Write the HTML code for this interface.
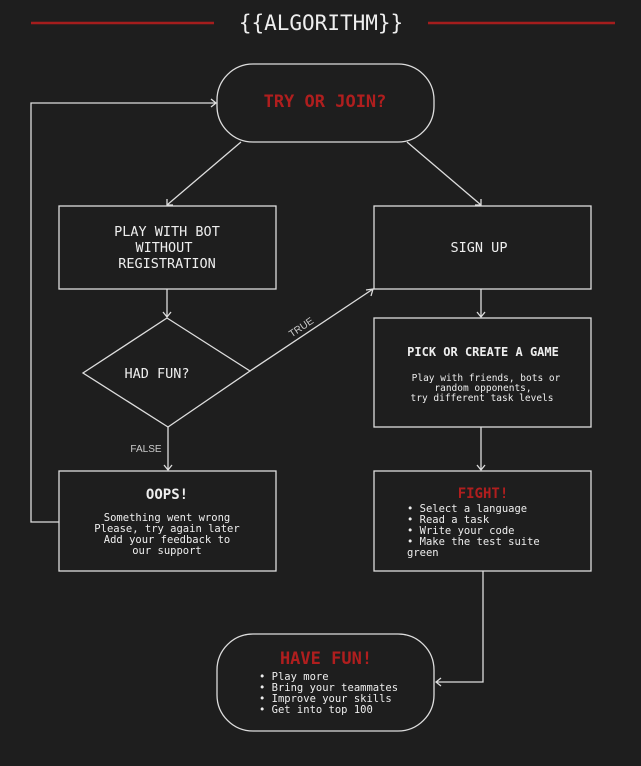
<!DOCTYPE html>
<html><head><meta charset="utf-8"><style>
html,body{margin:0;padding:0;background:#1e1e1e;}
svg{display:block}
text{font-family:"DejaVu Sans Mono","Liberation Mono",monospace;fill:#eee}
text.red{fill:#b01e1e}
text.lab{fill:#ccc;font-family:"Liberation Sans",sans-serif}
</style></head><body>
<svg width="641" height="766" viewBox="0 0 641 766" xmlns="http://www.w3.org/2000/svg">
<rect width="641" height="766" fill="#1e1e1e"/>
<g stroke="#a51d1d" stroke-width="2.5"><line x1="31" y1="23" x2="214" y2="23"/><line x1="428" y1="23" x2="615" y2="23"/></g>
<text x="321" y="30" font-size="21" text-anchor="middle">{{ALGORITHM}}</text>
<g fill="none" stroke="#ddd" stroke-width="1.3">
<rect x="217" y="64" width="217" height="78" rx="36"/>
<rect x="59" y="206" width="217" height="83"/>
<rect x="374" y="206" width="217" height="83"/>
<polygon points="167,318 250,371 168,427 83,373"/>
<rect x="59" y="471" width="217" height="100"/>
<rect x="374" y="318" width="217" height="109"/>
<rect x="374" y="471" width="217" height="100"/>
<rect x="217" y="634" width="217" height="97" rx="36"/>
<polyline points="59,522 31,522 31,103 216,103"/>
<polyline points="211,99 216,103 211,107"/>
<line x1="241" y1="142" x2="167" y2="205"/><polyline points="167,199 167,205 173,205"/>
<line x1="407" y1="142" x2="481" y2="205"/><polyline points="475,205 481,205 481,199"/>
<line x1="167" y1="289" x2="167" y2="317"/><polyline points="163,312 167,317 171,312"/>
<line x1="250" y1="371" x2="373" y2="289"/><polyline points="366,290 373,289 371,296"/>
<line x1="168" y1="427" x2="168" y2="470"/><polyline points="164,465 168,470 172,465"/>
<line x1="481" y1="289" x2="481" y2="317"/><polyline points="477,312 481,317 485,312"/>
<line x1="481" y1="427" x2="481" y2="470"/><polyline points="477,465 481,470 485,465"/>
<polyline points="483,571 483,682 436,682"/><polyline points="441,678 436,682 441,686"/>
</g>
<text class="red" x="325" y="107" font-size="17" font-weight="bold" text-anchor="middle">TRY OR JOIN?</text>
<g font-size="13.5" text-anchor="middle">
<text x="167" y="236">PLAY WITH BOT</text><text x="164" y="252">WITHOUT</text><text x="167" y="268">REGISTRATION</text>
<text x="479" y="252">SIGN UP</text>
<text x="157" y="378">HAD FUN?</text>
</g>
<text class="lab" x="303" y="330" font-size="10" transform="rotate(-34 303 330)" text-anchor="middle">TRUE</text>
<text class="lab" x="146" y="452" font-size="10" text-anchor="middle">FALSE</text>
<text x="167" y="499" font-size="14" font-weight="bold" text-anchor="middle">OOPS!</text>
<g font-size="10.5" text-anchor="middle">
<text x="167" y="521">Something went wrong</text><text x="167" y="532">Please, try again later</text><text x="167" y="543">Add your feedback to</text><text x="167" y="554">our support</text>
</g>
<text x="483" y="356" font-size="12" font-weight="bold" text-anchor="middle">PICK OR CREATE A GAME</text>
<g font-size="9.5" text-anchor="middle">
<text x="486" y="381">Play with friends, bots or</text><text x="483" y="391">random opponents,</text><text x="482" y="401">try different task levels</text>
</g>
<text class="red" x="483" y="498" font-size="14" font-weight="bold" text-anchor="middle">FIGHT!</text>
<g font-size="10.5">
<text x="407" y="512">• Select a language</text><text x="407" y="523">• Read a task</text><text x="407" y="534">• Write your code</text><text x="407" y="545">• Make the test suite</text><text x="407" y="556">green</text>
</g>
<text class="red" x="326" y="664" font-size="17" font-weight="bold" text-anchor="middle">HAVE FUN!</text>
<g font-size="10.5">
<text x="259" y="680">• Play more</text><text x="259" y="691">• Bring your teammates</text><text x="259" y="702">• Improve your skills</text><text x="259" y="713">• Get into top 100</text>
</g>
</svg>
</body></html>
